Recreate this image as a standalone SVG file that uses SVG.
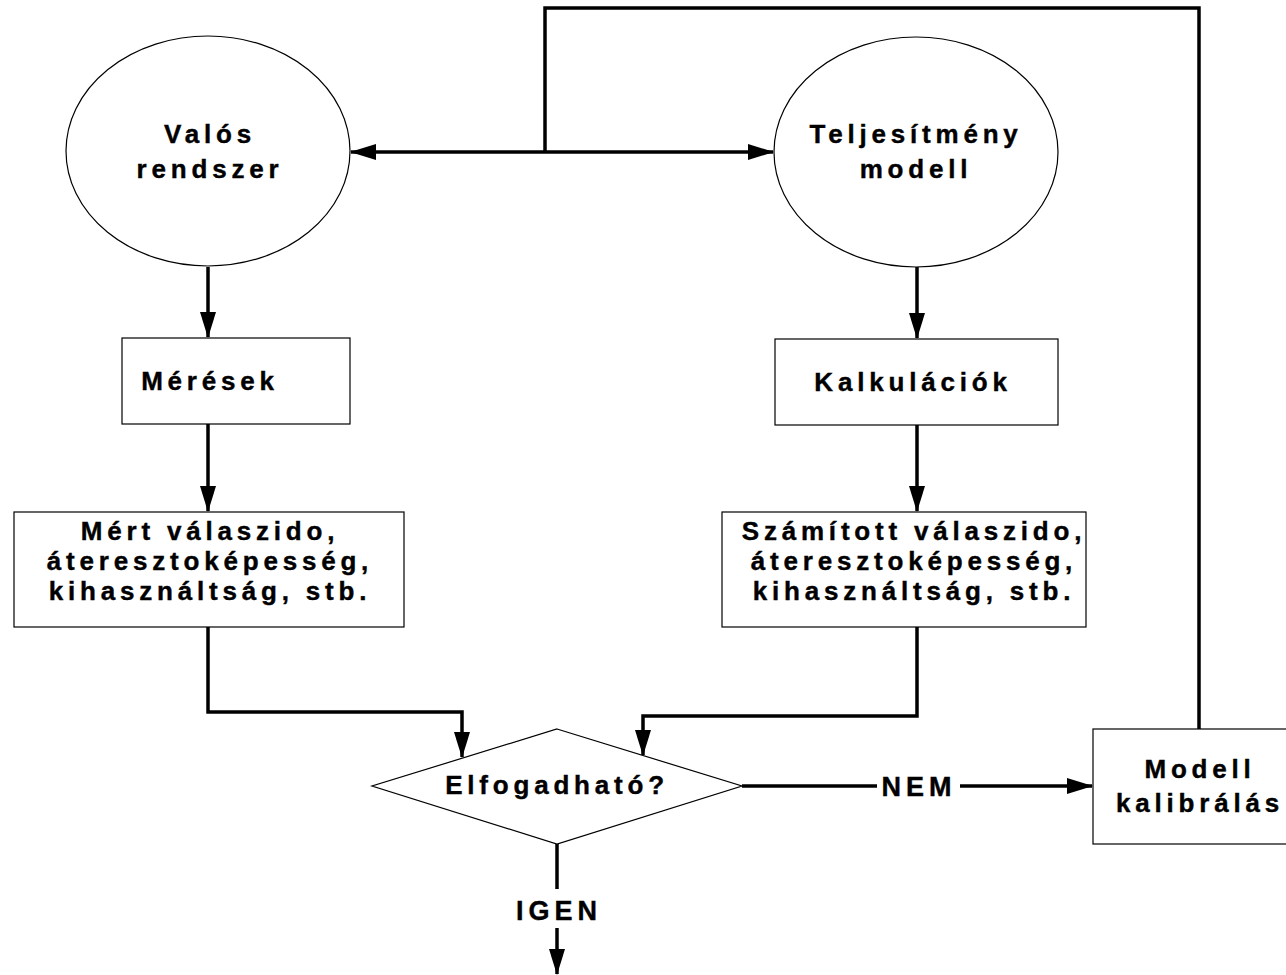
<svg xmlns="http://www.w3.org/2000/svg" width="1286" height="975" viewBox="0 0 1286 975">
  <style>
    .shape { fill: #ffffff; stroke: #000000; stroke-width: 1.2; }
    .conn { fill: none; stroke: #000000; stroke-width: 3.5; }
    .lbl { font-family: "Liberation Sans", Arial, sans-serif; font-weight: bold; font-size: 26px; letter-spacing: 4.8px; fill: #000000; stroke: #000000; stroke-width: 0.4; text-anchor: middle; }
    .flow { font-family: "Liberation Sans", Arial, sans-serif; font-weight: bold; font-size: 27px; letter-spacing: 5px; fill: #000000; stroke: #000000; stroke-width: 0.4; text-anchor: middle; }
  </style>
  <defs>
    <marker id="arrow" viewBox="0 0 26 16" refX="25" refY="8" markerWidth="26" markerHeight="16" markerUnits="userSpaceOnUse" orient="auto">
      <path d="M0,0 L26,8 L0,16 Z" fill="#000000"/>
    </marker>
  </defs>
  <rect width="1286" height="975" fill="#ffffff"/>

  <!-- connectors -->
  <g id="connectors">
    <path class="conn" d="M1199,729 V8 H545 V152"/>
    <line class="conn" x1="545" y1="152" x2="351" y2="152" marker-end="url(#arrow)"/>
    <line class="conn" x1="545" y1="152" x2="773" y2="152" marker-end="url(#arrow)"/>
    <line class="conn" x1="208" y1="267" x2="208" y2="337" marker-end="url(#arrow)"/>
    <line class="conn" x1="917" y1="267" x2="917" y2="338" marker-end="url(#arrow)"/>
    <line class="conn" x1="208" y1="424" x2="208" y2="511" marker-end="url(#arrow)"/>
    <line class="conn" x1="917" y1="425" x2="917" y2="511" marker-end="url(#arrow)"/>
    <path class="conn" d="M208,627 V712 H462 V757" marker-end="url(#arrow)"/>
    <path class="conn" d="M917,627 V716 H643 V755" marker-end="url(#arrow)"/>
    <line class="conn" x1="742" y1="786" x2="877" y2="786"/>
    <line class="conn" x1="960" y1="786" x2="1092" y2="786" marker-end="url(#arrow)"/>
    <line class="conn" x1="557" y1="844" x2="557" y2="889"/>
    <line class="conn" x1="557" y1="928" x2="557" y2="974" marker-end="url(#arrow)"/>
    <text class="flow" x="919" y="796">NEM</text>
    <text class="flow" x="559" y="920">IGEN</text>
  </g>

  <g id="valos-rendszer">
    <ellipse class="shape" cx="208" cy="151" rx="142" ry="115"/>
    <text class="lbl" x="210" y="143">Valós</text>
    <text class="lbl" x="210" y="178">rendszer</text>
  </g>

  <g id="teljesitmeny-modell">
    <ellipse class="shape" cx="916" cy="152" rx="142" ry="115"/>
    <text class="lbl" x="916" y="143">Teljesítmény</text>
    <text class="lbl" x="916" y="178">modell</text>
  </g>

  <g id="meresek">
    <rect class="shape" x="122" y="338" width="228" height="86"/>
    <text class="lbl" x="210" y="390">Mérések</text>
  </g>

  <g id="kalkulaciok">
    <rect class="shape" x="775" y="339" width="283" height="86"/>
    <text class="lbl" x="913" y="391">Kalkulációk</text>
  </g>

  <g id="mert-ertekek">
    <rect class="shape" x="14" y="512" width="390" height="115"/>
    <text class="lbl" x="210" y="540">Mért válaszido,</text>
    <text class="lbl" x="210" y="570">áteresztoképesség,</text>
    <text class="lbl" x="210" y="600">kihasználtság, stb.</text>
  </g>

  <g id="szamitott-ertekek">
    <rect class="shape" x="722" y="512" width="364" height="115"/>
    <text class="lbl" x="914" y="540">Számított válaszido,</text>
    <text class="lbl" x="914" y="570">áteresztoképesség,</text>
    <text class="lbl" x="914" y="600">kihasználtság, stb.</text>
  </g>

  <g id="elfogadhato">
    <polygon class="shape" points="557,729 742,786 557,844 372,786"/>
    <text class="lbl" x="557" y="794">Elfogadható?</text>
  </g>

  <g id="modell-kalibralas">
    <rect class="shape" x="1093" y="729" width="215" height="115"/>
    <text class="lbl" x="1200" y="778">Modell</text>
    <text class="lbl" x="1200" y="812">kalibrálás</text>
  </g>
</svg>
